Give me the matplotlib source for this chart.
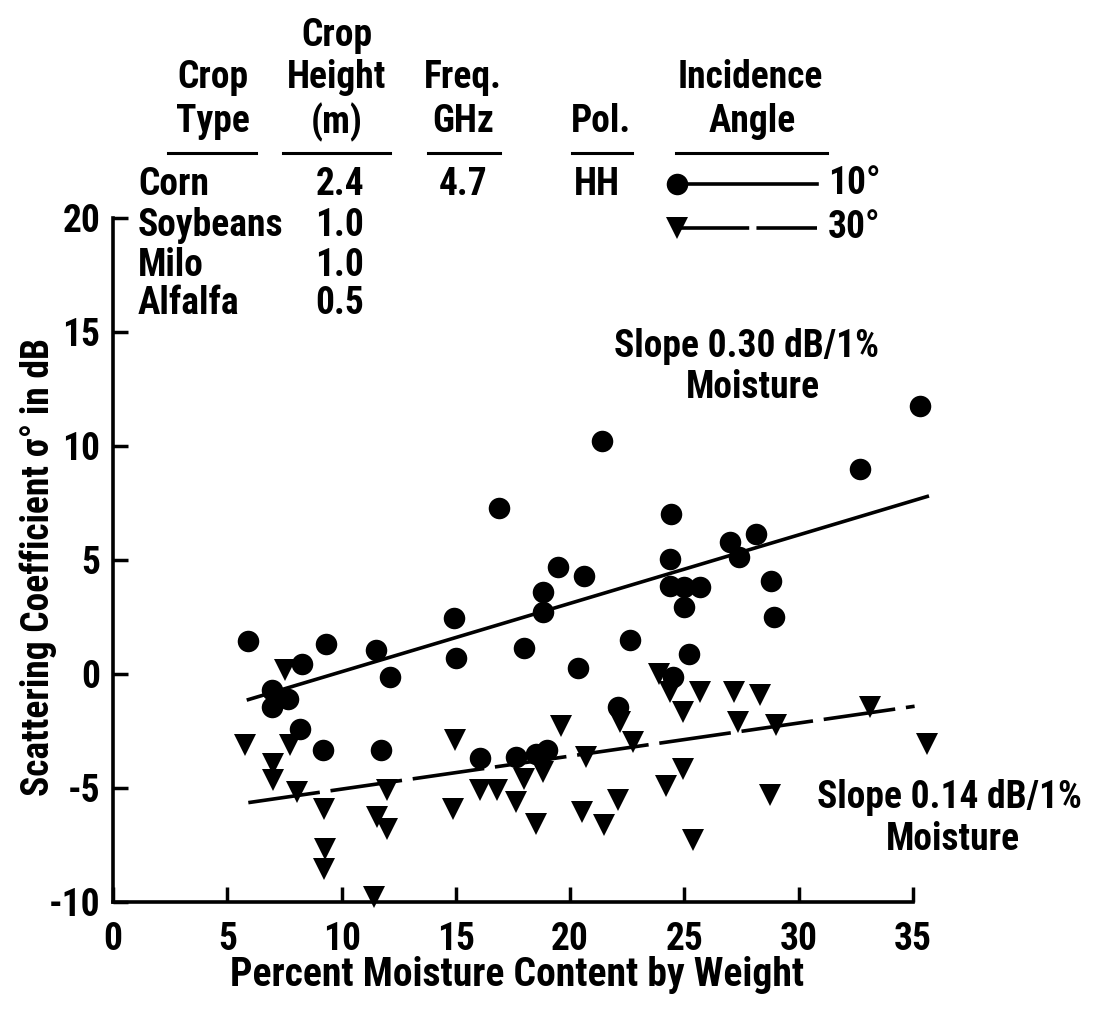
import numpy as np
import matplotlib
matplotlib.use("Agg")
import matplotlib.pyplot as plt
from matplotlib.lines import Line2D
from matplotlib import font_manager

# pick a condensed bold face if one is around
candidates = ["Roboto Condensed", "Archivo Narrow", "PT Sans Narrow", "Fira Sans Condensed",
              "IBM Plex Sans Condensed", "Barlow Semi Condensed", "Open Sans Condensed",
              "Liberation Sans Narrow", "DejaVu Sans Condensed", "Roboto"]
installed = {f.name for f in font_manager.fontManager.ttflist}
face = next((c for c in candidates if c in installed), "DejaVu Sans")

plt.rcParams["font.family"] = [face, "DejaVu Sans"]
plt.rcParams["font.weight"] = "bold"
plt.rcParams["axes.labelweight"] = "bold"
plt.rcParams["axes.unicode_minus"] = False

# 10 deg incidence (circles)
x_10 = [5.9, 9.3, 11.5, 8.25, 15.0, 12.1, 6.94, 7.67, 6.94, 8.18, 9.17, 11.72,
        17.97, 20.35, 22.6, 16.05, 17.65, 18.5, 19.0, 22.1, 21.4, 16.9, 24.4,
        19.45, 20.6, 18.8, 18.8, 14.9, 24.35, 24.35, 25.0, 25.67, 25.0, 35.3,
        32.7, 28.15, 26.98, 27.4, 28.8, 28.9, 25.2, 24.5]
y_10 = [1.45, 1.3, 1.07, 0.44, 0.7, -0.13, -0.7, -1.08, -1.45, -2.4, -3.35, -3.35,
        1.15, 0.26, 1.5, -3.7, -3.64, -3.5, -3.35, -1.45, 10.2, 7.3, 7.03,
        4.7, 4.3, 3.6, 2.7, 2.47, 5.06, 3.85, 3.8, 3.8, 2.93, 11.74,
        9.0, 6.15, 5.8, 5.13, 4.1, 2.5, 0.86, -0.15]

# 30 deg incidence (triangles)
x_30 = [5.77, 7.52, 7.74, 6.98, 6.98, 8.03, 9.23, 9.27, 9.23, 11.43, 11.97, 11.53,
        12.0, 14.95, 14.88, 19.6, 16.05, 16.78, 17.65, 18.0, 18.8, 18.5, 20.7,
        20.5, 21.47, 22.1, 22.17, 22.75, 23.9, 24.35, 24.2, 25.67, 24.94, 27.15,
        28.3, 27.34, 29.0, 33.1, 35.6, 24.94, 28.73, 25.37]
y_30 = [-3.13, 0.16, -3.13, -3.93, -4.66, -5.18, -5.9, -7.66, -8.54, -9.8, -5.1, -6.27,
        -6.78, -2.9, -5.9, -2.3, -5.1, -5.1, -5.6, -4.6, -4.3, -6.57, -3.64,
        -6.05, -6.64, -5.54, -2.1, -2.98, 0.0, -0.79, -4.9, -0.79, -1.67, -0.79,
        -0.94, -2.1, -2.25, -1.45, -3.06, -4.15, -5.32, -7.3]

# regression lines
fit_10 = dict(slope=0.30, intercept=-2.9, xmin=5.85, xmax=35.7)
fit_30 = dict(slope=0.145, intercept=-6.5, xmin=5.92, xmax=35.07)

crop_types = ["Corn", "Soybeans", "Milo", "Alfalfa"]
crop_heights = ["2.4", "1.0", "1.0", "0.5"]
freq = "4.7"
pol = "HH"
angles = ["10°", "30°"]

x_ticks = [0, 5, 10, 15, 20, 25, 30, 35]
y_ticks = [-10, -5, 0, 5, 10, 15, 20]

W, H = 1094, 1010
FS = 27


def fx(px):
    return px / W


def fy(py):
    return 1 - py / H


fig = plt.figure(figsize=(W / 100, H / 100), dpi=100)
ax = fig.add_axes([fx(113), fy(902), fx(913) - fx(113), fy(218) - fy(902)])

ax.plot(x_10, y_10, "o", color="black", markersize=15.5, markeredgewidth=0, clip_on=False)
ax.plot(x_30, y_30, "v", color="black", markersize=15.5, markeredgewidth=0, clip_on=False)

for fit, ls in [(fit_10, "-"), (fit_30, (0, (20, 3)))]:
    xs = np.array([fit["xmin"], fit["xmax"]])
    ax.plot(xs, fit["intercept"] + fit["slope"] * xs, color="black", lw=2.6,
            linestyle=ls, clip_on=False, solid_capstyle="butt", dash_capstyle="butt")

ax.set_xlim(0, 35)
ax.set_ylim(-10, 20)
ax.set_xticks(x_ticks)
ax.set_xticklabels([str(t) for t in x_ticks])
ax.set_yticks(y_ticks)
ax.set_yticklabels([str(t) for t in y_ticks])
ax.tick_params(direction="in", length=11, width=2.5, labelsize=FS, pad=14)
ax.tick_params(axis="y", pad=9)
for side in ["top", "right"]:
    ax.spines[side].set_visible(False)
for side in ["left", "bottom"]:
    ax.spines[side].set_linewidth(2.6)

ax.set_xlabel("Percent Moisture Content by Weight", fontsize=28.5, va="center")
ax.xaxis.set_label_coords(0.505, -0.106)
ax.set_ylabel("Scattering Coefficient σ° in dB", fontsize=FS, va="center")
ax.yaxis.set_label_coords(-0.093, 0.49)

# slope annotations
fig.text(fx(746), fy(346), "Slope 0.30 dB/1%", fontsize=FS, ha="center", va="center")
fig.text(fx(753), fy(388), "Moisture", fontsize=FS, ha="center", va="center")
fig.text(fx(949), fy(797), "Slope 0.14 dB/1%", fontsize=FS, ha="center", va="center")
fig.text(fx(953), fy(840), "Moisture", fontsize=FS, ha="center", va="center")

# header table
fig.text(fx(213), fy(78), "Crop", fontsize=FS, ha="center", va="center")
fig.text(fx(213), fy(122), "Type", fontsize=FS, ha="center", va="center")
fig.text(fx(337), fy(36), "Crop", fontsize=FS, ha="center", va="center")
fig.text(fx(337), fy(78), "Height", fontsize=FS, ha="center", va="center")
fig.text(fx(337), fy(122), "(m)", fontsize=FS, ha="center", va="center")
fig.text(fx(463), fy(78), "Freq.", fontsize=FS, ha="center", va="center")
fig.text(fx(463), fy(122), "GHz", fontsize=FS, ha="center", va="center")
fig.text(fx(601), fy(122), "Pol.", fontsize=FS, ha="center", va="center")
fig.text(fx(750), fy(78), "Incidence", fontsize=FS, ha="center", va="center")
fig.text(fx(752), fy(122), "Angle", fontsize=FS, ha="center", va="center")

for x0, x1 in [(168, 256), (283, 390), (428, 500), (572, 632), (676, 827)]:
    fig.add_artist(Line2D([fx(x0), fx(x1)], [fy(153), fy(153)], color="black",
                          lw=2.2, transform=fig.transFigure))

row_y = [185, 225, 265, 303]
for name, h, ry in zip(crop_types, crop_heights, row_y):
    fig.text(fx(138), fy(ry), name, fontsize=FS, ha="left", va="center")
    fig.text(fx(340), fy(ry), h, fontsize=FS, ha="center", va="center")
fig.text(fx(463), fy(185), freq, fontsize=FS, ha="center", va="center")
fig.text(fx(597), fy(185), pol, fontsize=FS, ha="center", va="center")

# incidence angle key
for ry, mk, ls, lab in [(184, "o", "-", angles[0]), (228, "v", (0, (20, 2)), angles[1])]:
    fig.add_artist(Line2D([fx(677), fx(817)], [fy(ry), fy(ry)], color="black", lw=2.6,
                          linestyle=ls, marker=mk, markevery=[0], markersize=15.5,
                          markeredgewidth=0, transform=fig.transFigure))
    fig.text(fx(828), fy(ry), lab, fontsize=FS, ha="left", va="center")

fig.savefig("out.png", dpi=100, facecolor="white")
